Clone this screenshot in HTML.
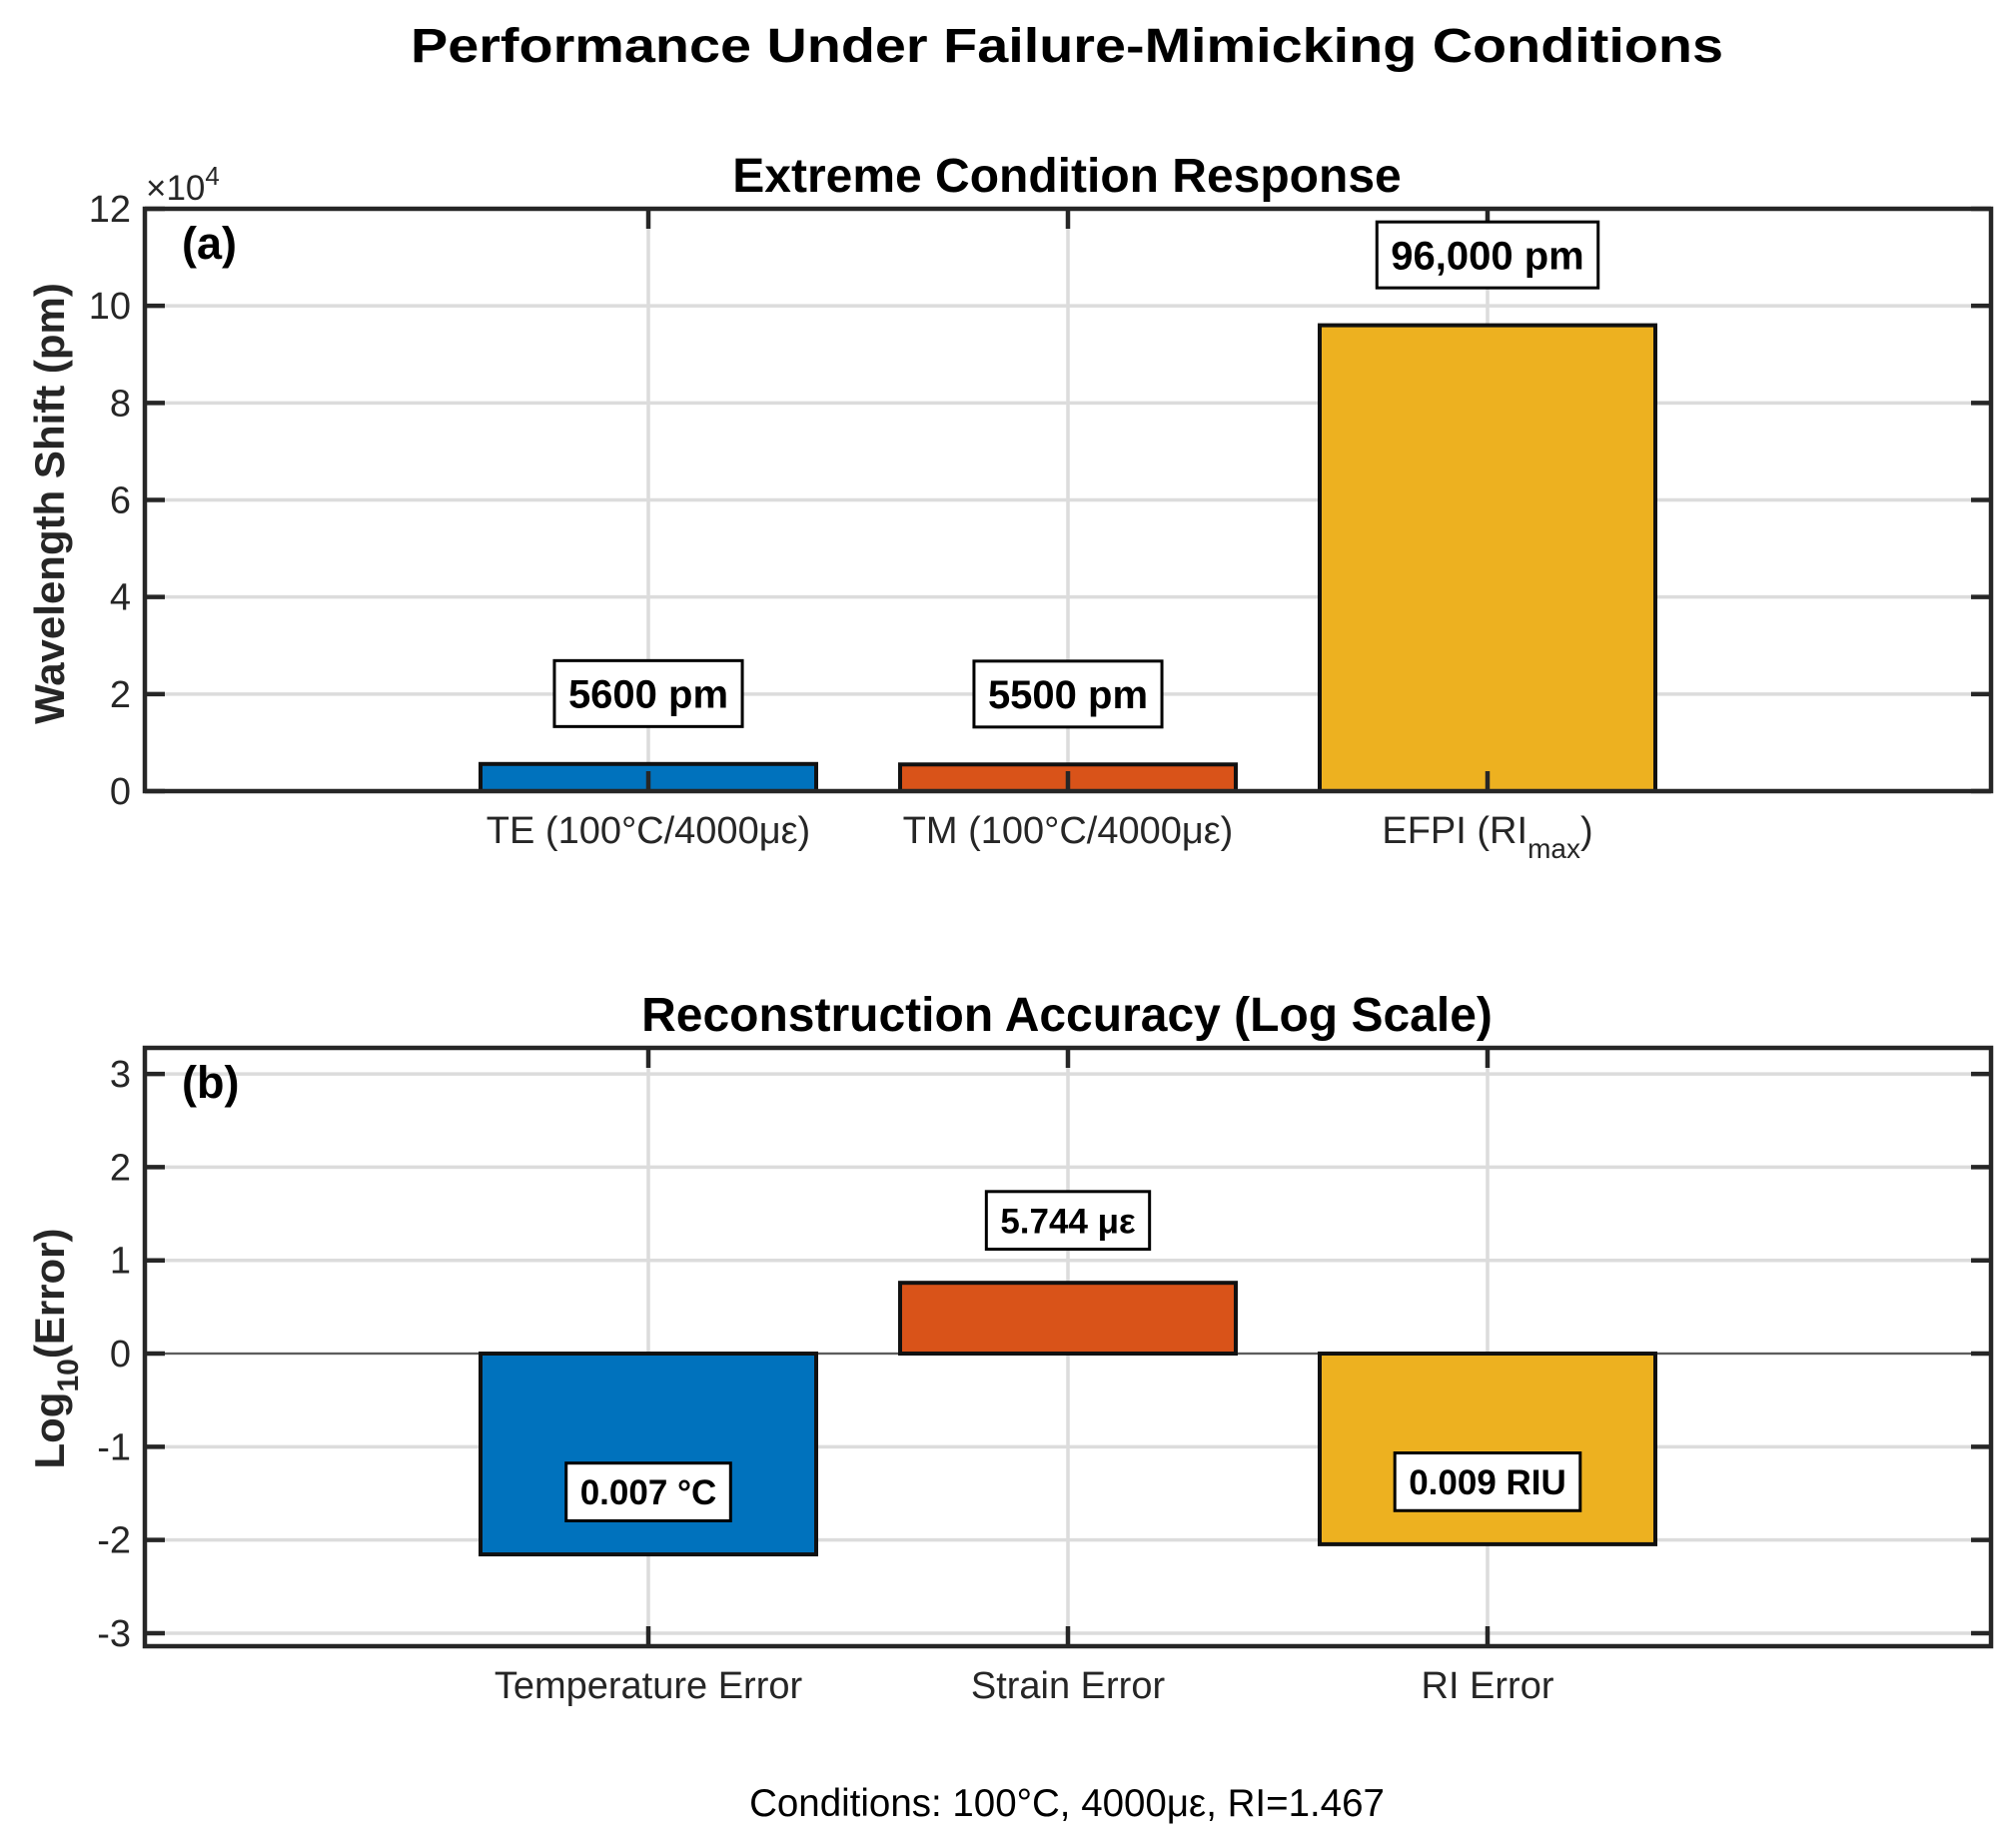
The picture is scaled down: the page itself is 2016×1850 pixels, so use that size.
<!DOCTYPE html>
<html><head><meta charset="utf-8">
<style>
html,body{margin:0;padding:0;background:#fff;}
svg{display:block;font-family:"Liberation Sans",Arial,sans-serif;}
</style></head>
<body>
<svg id="fig" width="2016" height="1850" viewBox="0 0 2016 1850" xmlns="http://www.w3.org/2000/svg">
<rect width="2016" height="1850" fill="#fff"/>
<text x="1068" y="62" text-anchor="middle" font-size="48" font-weight="bold" textLength="1314" lengthAdjust="spacingAndGlyphs">Performance Under Failure-Mimicking Conditions</text>
<g id="pa"></g>
<g id="pb"></g>
<text x="1068" y="1818" text-anchor="middle" font-size="38.5">Conditions: 100°C, 4000με, RI=1.467</text>
</svg>
<script>
const catsA = ["TE (100°C/4000με)", "TM (100°C/4000με)", "EFPI (RI"];
const valsA = [5600, 5500, 96000];
const labelsA = ["5600 pm", "5500 pm", "96,000 pm"];
const ticksA = [0, 2, 4, 6, 8, 10, 12];
const catsB = ["Temperature Error", "Strain Error", "RI Error"];
const valsB = [Math.log10(0.007), Math.log10(5.744), Math.log10(0.009)];
const labelsB = ["0.007 °C", "5.744 με", "0.009 RIU"];
const ticksB = [-3, -2, -1, 0, 1, 2, 3];
const colors = ["#0072BD", "#D95319", "#EDB120"];

const NS = "http://www.w3.org/2000/svg";
function mk(parent, tag, attrs, text) {
  const e = document.createElementNS(NS, tag);
  for (const k in attrs) e.setAttribute(k, attrs[k]);
  if (text !== undefined) e.textContent = text;
  parent.appendChild(e);
  return e;
}
const L = 145, R = 1993;
const xs = c => L + (c + 0.2) / 4.4 * (R - L);
const BW = 0.8 / 4.4 * (R - L);

function panel(g, top, bottom, ymin, ymax, ticks, tickScale, cats, vals, labels, labelOff, labelFont, title, letter, tag) {
  const ys = v => bottom - (v - ymin) / (ymax - ymin) * (bottom - top);
  ticks.forEach(t => {
    const y = ys(t * tickScale);
    const gl = mk(g, "line", {x1: L, x2: R, y1: y, y2: y, stroke: "#dcdcdc", "stroke-width": 3.5});
    
    
  });
  cats.forEach((c, i) => {
    const x = xs(i + 1);
    const gl = mk(g, "line", {x1: x, x2: x, y1: top, y2: bottom, stroke: "#dcdcdc", "stroke-width": 3.5});
    
    
  });
  if (ymin < 0) {
    const z = mk(g, "line", {x1: L, x2: R, y1: ys(0), y2: ys(0), stroke: "#333", "stroke-width": 1.5});
    
    
  }
  vals.forEach((v, i) => {
    const x = xs(i + 1) - BW / 2;
    const y1 = ys(Math.max(v, 0)), y2 = ys(Math.min(v, 0));
    const b = mk(g, "rect", {x: x, y: y1, width: BW, height: Math.max(y2 - y1, 1), fill: colors[i], stroke: "#111", "stroke-width": 4});
    
    
  });
  const ax = mk(g, "rect", {x: L, y: top, width: R - L, height: bottom - top, fill: "none", stroke: "#262626", "stroke-width": 4.5});
  
  
  ticks.forEach(t => {
    const y = ys(t * tickScale);
    mk(g, "line", {x1: L, x2: L + 20, y1: y, y2: y, stroke: "#262626", "stroke-width": 4.5});
    mk(g, "line", {x1: R, x2: R - 20, y1: y, y2: y, stroke: "#262626", "stroke-width": 4.5});
    const tl = mk(g, "text", {x: L - 14, y: y + 13, "text-anchor": "end", "font-size": 38, fill: "#262626"}, String(t));
    
    
  });
  cats.forEach((c, i) => {
    const x = xs(i + 1);
    mk(g, "line", {x1: x, x2: x, y1: bottom, y2: bottom - 20, stroke: "#262626", "stroke-width": 4.5});
    mk(g, "line", {x1: x, x2: x, y1: top, y2: top + 20, stroke: "#262626", "stroke-width": 4.5});
    const tl = mk(g, "text", {x: x, y: bottom + 52, "text-anchor": "middle", "font-size": 38, fill: "#262626"}, c);
    if (c === "EFPI (RI") {
      mk(tl, "tspan", {"font-size": 28, dy: 15}, "max");
      mk(tl, "tspan", {dy: -15}, ")");
    }
    
    
  });
  vals.forEach((v, i) => {
    const x = xs(i + 1), yc = ys(v + labelOff);
    const grp = mk(g, "g", {});
    
    
    const box = mk(grp, "rect", {fill: "#fff", stroke: "#000", "stroke-width": 3});
    const t = mk(grp, "text", {x: x, y: yc + labelFont * 0.36, "text-anchor": "middle", "font-size": labelFont, "font-weight": "bold"}, labels[i]);
    const w = t.getComputedTextLength() + 28;
    const h = labelFont * 1.65;
    box.setAttribute("x", x - w / 2); box.setAttribute("y", yc - h / 2);
    box.setAttribute("width", w); box.setAttribute("height", h);
  });
  const tt = mk(g, "text", {x: 1068, y: top - 17, "text-anchor": "middle", "font-size": 48, "font-weight": "bold"}, title);
  
  
  const lt = mk(g, "text", {x: 182, y: top + 50, "font-size": 45, "font-weight": "bold"}, letter);
  
  
}

const pa = document.getElementById("pa");
panel(pa, 209, 792, 0, 120000, ticksA, 10000, catsA, valsA, labelsA, 14500, 40, "Extreme Condition Response", "(a)", "panel-a");
const ex = mk(pa, "text", {x: 146, y: 200, "font-size": 35, fill: "#262626"});


mk(ex, "tspan", {}, "×10");
mk(ex, "tspan", {"font-size": 26, dy: -15}, "4");
const yla = mk(pa, "text", {transform: "translate(64,504) rotate(-90)", "text-anchor": "middle", "font-size": 42, "font-weight": "bold", fill: "#262626"}, "Wavelength Shift (pm)");



const pb = document.getElementById("pb");
panel(pb, 1049, 1648, -3.14, 3.28, ticksB, 1, catsB, valsB, labelsB, 0.67, 35, "Reconstruction Accuracy (Log Scale)", "(b)", "panel-b");
const ylb = mk(pb, "text", {transform: "translate(64,1350) rotate(-90)", "text-anchor": "middle", "font-size": 42, "font-weight": "bold", fill: "#262626"});


mk(ylb, "tspan", {}, "Log");
mk(ylb, "tspan", {"font-size": 30, dy: 14}, "10");
mk(ylb, "tspan", {dy: -14}, "(Error)");
</script>
</body></html>
